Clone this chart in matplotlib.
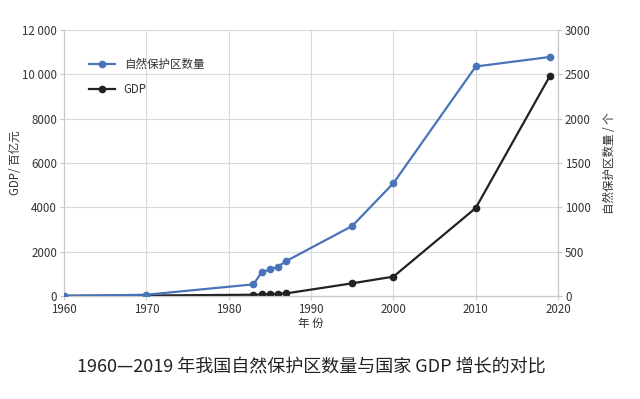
import matplotlib.pyplot as plt
from matplotlib.ticker import FuncFormatter

plt.rcParams['font.family'] = ['Noto Sans CJK SC', 'DejaVu Sans']

# 年份
years_gdp = [1960, 1970, 1983, 1984, 1985, 1986, 1987, 1995, 2000, 2010, 2019]
gdp = [15, 23, 60, 72, 90, 103, 121, 575, 875, 3970, 9920]          # 百亿元

years_res = [1960, 1970, 1983, 1984, 1985, 1986, 1987, 1995, 2000, 2010, 2019]
reserves = [0, 15, 132, 267, 300, 333, 395, 790, 1272, 2588, 2695]  # 个

left_ticks = [0, 2000, 4000, 6000, 8000, 10000, 12000]
right_ticks = [0, 500, 1000, 1500, 2000, 2500, 3000]
x_ticks = [1960, 1970, 1980, 1990, 2000, 2010, 2020]

blue = '#4a74b9'
dark = '#222222'
grey = '#d9d9d9'
txt = '#333333'

fig = plt.figure(figsize=(6.4, 3.99), dpi=100)
ax = fig.add_axes([0.1, 0.258, 0.772, 0.667])
ax2 = ax.twinx()

l1, = ax.plot(years_gdp, gdp, '-o', color=dark, lw=1.6, ms=4.5, label='GDP', zorder=3)
l2, = ax2.plot(years_res, reserves, '-o', color=blue, lw=1.6, ms=4.5, label='自然保护区数量', zorder=3)

ax.set_xlim(1960, 2020)
ax.set_ylim(0, 12000)
ax2.set_ylim(0, 3000)
ax.set_xticks(x_ticks)
ax.set_yticks(left_ticks)
ax2.set_yticks(right_ticks)


def thousands(v, pos):
    v = int(v)
    if v >= 10000:
        return f'{v:,}'.replace(',', ' ')
    return str(v)


ax.yaxis.set_major_formatter(FuncFormatter(thousands))
ax.grid(True, color=grey, lw=0.8)
ax.set_axisbelow(True)

for a in (ax, ax2):
    for s in a.spines.values():
        s.set_color('#c8c8c8')
    a.spines['top'].set_visible(False)
    a.tick_params(colors='#c8c8c8', labelcolor=txt, labelsize=8.3, length=3, pad=2)

ax.set_xlabel('年 份', fontsize=8.3, color=txt, labelpad=1)
ax.set_ylabel('GDP/ 百亿元', fontsize=8.3, color=txt, labelpad=0)
ax2.set_ylabel('自然保护区数量 / 个', fontsize=8.3, color=txt, labelpad=9)

ax.legend([l2, l1], ['自然保护区数量', 'GDP'], loc='upper left', bbox_to_anchor=(0.03, 0.935),
          frameon=False, fontsize=8.3, labelcolor=txt, handlelength=2.2, labelspacing=1.1)

fig.text(0.487, 0.078, '1960—2019 年我国自然保护区数量与国家 GDP 增长的对比',
         ha='center', va='center', fontsize=13, color='#222222')

fig.savefig('out.png', dpi=100)
